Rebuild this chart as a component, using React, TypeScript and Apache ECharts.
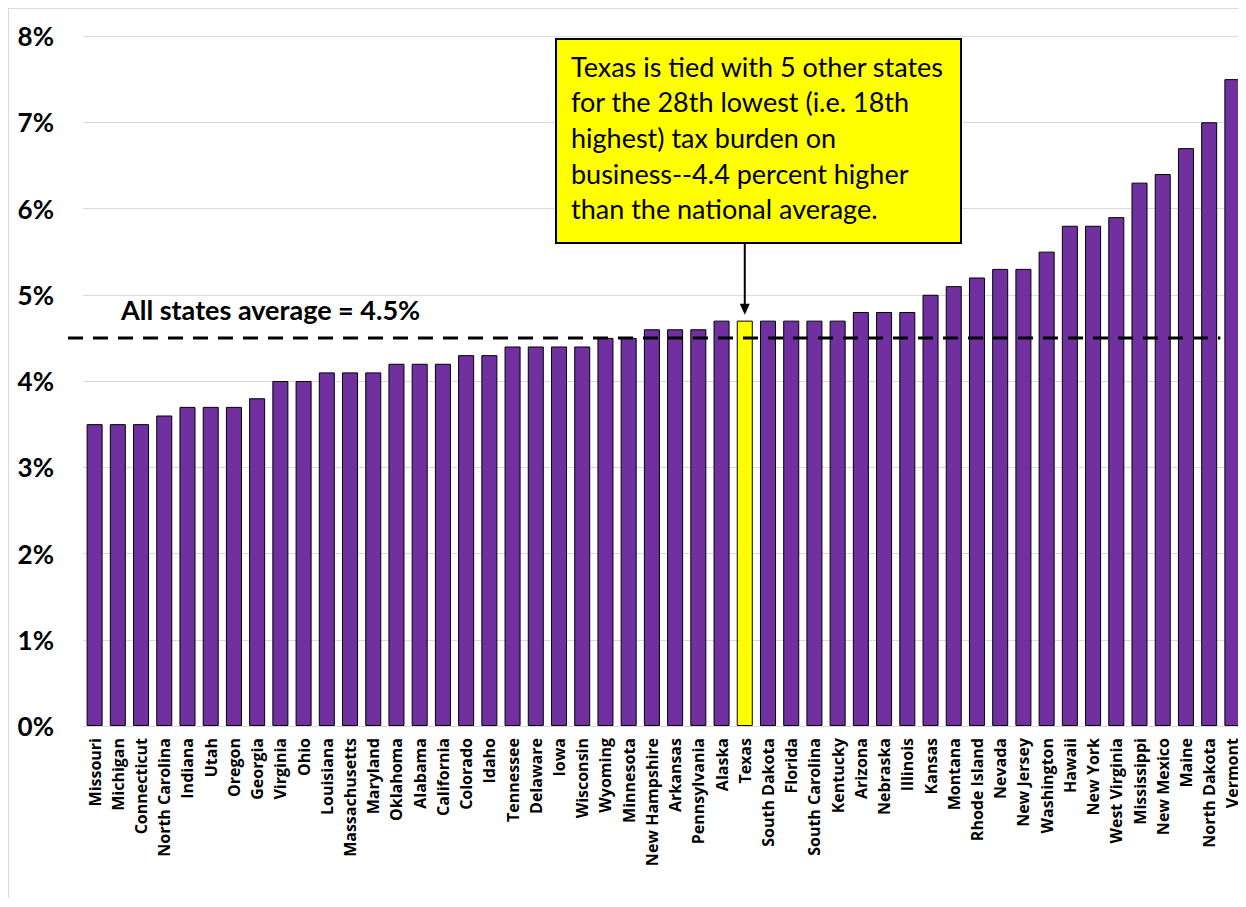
import React, { useEffect, useRef } from "react";
import * as echarts from "echarts";

const states = [
  "Missouri", "Michigan", "Connecticut", "North Carolina", "Indiana", "Utah", "Oregon", "Georgia",
  "Virginia", "Ohio", "Louisiana", "Massachusetts", "Maryland", "Oklahoma", "Alabama", "California",
  "Colorado", "Idaho", "Tennessee", "Delaware", "Iowa", "Wisconsin", "Wyoming", "Minnesota",
  "New Hampshire", "Arkansas", "Pennsylvania", "Alaska", "Texas", "South Dakota", "Florida",
  "South Carolina", "Kentucky", "Arizona", "Nebraska", "Illinois", "Kansas", "Montana",
  "Rhode Island", "Nevada", "New Jersey", "Washington", "Hawaii", "New York", "West Virginia",
  "Mississippi", "New Mexico", "Maine", "North Dakota", "Vermont",
];
const taxBurden = [
  3.5, 3.5, 3.5, 3.6, 3.7, 3.7, 3.7, 3.8,
  4.0, 4.0, 4.1, 4.1, 4.1, 4.2, 4.2, 4.2,
  4.3, 4.3, 4.4, 4.4, 4.4, 4.4, 4.5, 4.5,
  4.6, 4.6, 4.6, 4.7, 4.7, 4.7, 4.7,
  4.7, 4.7, 4.8, 4.8, 4.8, 5.0, 5.1,
  5.2, 5.3, 5.3, 5.5, 5.8, 5.8, 5.9,
  6.3, 6.4, 6.7, 7.0, 7.5,
];
const highlightState = "Texas";
const allStatesAverage = 4.5;
const averageLabel = "All states average = 4.5%";
const noteLines = [
  "Texas is tied with 5 other states",
  "for the 28th lowest (i.e. 18th",
  "highest) tax burden on",
  "business--4.4 percent higher",
  "than the national average.",
];

const FONT = "Lato, 'Open Sans', sans-serif";
const LABEL_FONT = "'Open Sans', Lato, sans-serif";

export default function App() {
  const ref = useRef<HTMLDivElement>(null);
  useEffect(() => {
    if (!ref.current) return;
    const chart = echarts.init(ref.current, null, { renderer: "svg" });
    chart.setOption({
      animation: false,
      backgroundColor: "#ffffff",
      grid: { left: 74, right: 2, top: 27, bottom: 172 },
      xAxis: {
        type: "category",
        data: states,
        axisTick: { show: false },
        axisLine: { lineStyle: { color: "#d9d9d9", width: 1 } },
        axisLabel: {
          rotate: 90,
          interval: 0,
          margin: 12,
          color: "#000",
          fontSize: 16,
          fontWeight: "bold",
          fontFamily: LABEL_FONT,
        },
      },
      yAxis: {
        type: "value",
        min: 0,
        max: 8,
        interval: 1,
        axisLine: { show: false },
        axisTick: { show: false },
        splitLine: { lineStyle: { color: "#d9d9d9", width: 1 } },
        axisLabel: {
          formatter: "{value}%",
          margin: 29,
          color: "#000",
          fontSize: 26,
          fontWeight: "bold",
          fontFamily: FONT,
        },
      },
      series: [
        {
          type: "bar",
          barCategoryGap: "31%",
          itemStyle: { color: "#7030A0", borderColor: "#000", borderWidth: 1 },
          data: taxBurden.map((v, i) =>
            states[i] === highlightState
              ? { value: v, itemStyle: { color: "#FFFF00", borderColor: "#000", borderWidth: 1 } }
              : v
          ),
        },
      ],
    });

    const yAvg = chart.convertToPixel({ yAxisIndex: 0 }, allStatesAverage) as number;
    const hi = states.indexOf(highlightState);
    const xT = chart.convertToPixel({ xAxisIndex: 0 }, highlightState) as number;
    const yT = chart.convertToPixel({ yAxisIndex: 0 }, taxBurden[hi]) as number;
    const xLast = chart.convertToPixel({ xAxisIndex: 0 }, states[states.length - 1]) as number;

    const boxX = 547, boxY = 30, boxW = 405, boxH = 204;
    const tipY = yT - 6;
    const arrowTop = boxY + boxH + 1;

    chart.setOption({
      graphic: [
        {
          type: "line",
          shape: { x1: 59, y1: yAvg, x2: xLast - 12, y2: yAvg },
          style: { stroke: "#000", lineWidth: 3, lineDash: [15, 10] },
          z: 10,
        },
        {
          type: "text",
          x: 112,
          y: yAvg - 28,
          style: {
            text: averageLabel,
            fill: "#000",
            font: `bold 27px ${FONT}`,
            textVerticalAlign: "middle",
          },
          z: 10,
        },
        {
          type: "rect",
          shape: { x: boxX, y: boxY, width: boxW, height: boxH },
          style: { fill: "#FFFF00", stroke: "#000", lineWidth: 2 },
          z: 20,
        },
        ...noteLines.map((t, i) => ({
          type: "text",
          x: boxX + 15,
          y: boxY + 27 + i * 35.7,
          style: {
            text: t,
            fill: "#000",
            font: `27px ${FONT}`,
            textVerticalAlign: "middle",
          },
          z: 21,
        })),
        {
          type: "line",
          shape: { x1: xT, y1: arrowTop, x2: xT, y2: tipY - 8 },
          style: { stroke: "#000", lineWidth: 2 },
          z: 20,
        },
        {
          type: "polygon",
          shape: { points: [[xT - 5, tipY - 11], [xT + 5, tipY - 11], [xT, tipY]] },
          style: { fill: "#000" },
          z: 20,
        },
      ],
    });

    return () => chart.dispose();
  }, []);
  return (
    <div
      ref={ref}
      style={{
        width: 1238,
        height: 890,
        boxSizing: "border-box",
        borderTop: "1px solid #d9d9d9",
        borderLeft: "1px solid #d9d9d9",
      }}
    />
  );
}
